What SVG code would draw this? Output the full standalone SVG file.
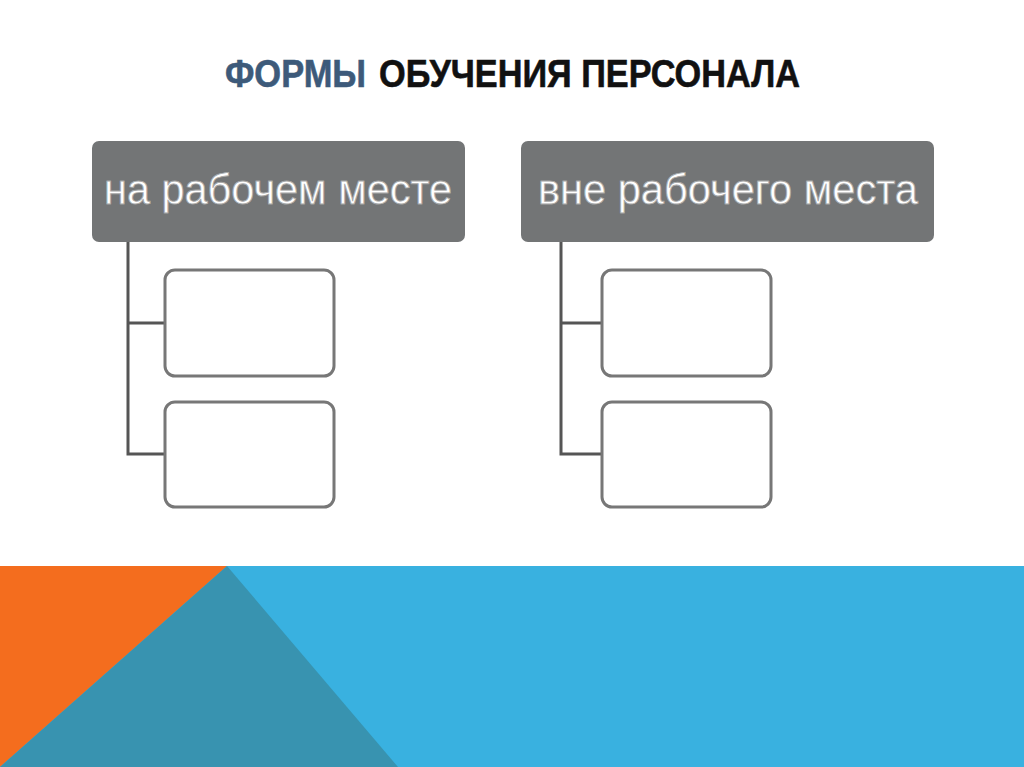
<svg xmlns="http://www.w3.org/2000/svg" width="1024" height="767" viewBox="0 0 1024 767">
<style>
.title{font-family:"Liberation Sans",Arial,sans-serif;font-weight:bold;font-size:39px;stroke-width:0.6}
.head{fill:#737576}
.htext{font-family:"Liberation Sans",Arial,sans-serif;font-size:43px;fill:#ffffff;stroke:#a8a8a8;stroke-width:0.9}
.child{fill:#ffffff;stroke:#777777;stroke-width:3}
.conn{fill:none;stroke:#555555;stroke-width:3}
</style>
<rect width="1024" height="767" fill="#ffffff"/>
<g id="background">
<rect x="0" y="566" width="1024" height="201" fill="#39b1e0"/>
<polygon points="0,566 227,566 0,767" fill="#f46d1e"/>
<polygon points="227,566 398,767 0,767" fill="#3893b0"/>
</g>
<g id="title">
<text class="title" x="225" y="87" textLength="141" lengthAdjust="spacingAndGlyphs" fill="#3d5a7a" stroke="#3d5a7a">ФОРМЫ</text>
<text class="title" x="379" y="87" textLength="421" lengthAdjust="spacingAndGlyphs" fill="#111111" stroke="#111111">ОБУЧЕНИЯ ПЕРСОНАЛА</text>
</g>
<g id="connectors">
<path class="conn" d="M128,242 V454 H165 M128,323 H165"/>
<path class="conn" d="M561,242 V454 H602 M561,323 H602"/>
</g>
<g id="node-left">
<rect class="head" x="92" y="141" width="373" height="101" rx="7"/>
<text class="htext" x="104" y="204" textLength="348" lengthAdjust="spacingAndGlyphs">на рабочем месте</text>
</g>
<g id="node-right">
<rect class="head" x="521" y="141" width="413" height="101" rx="7"/>
<text class="htext" x="538" y="204" textLength="380" lengthAdjust="spacingAndGlyphs">вне рабочего места</text>
</g>
<g id="node-left-1"><rect class="child" x="165" y="270" width="169" height="106" rx="10"/></g>
<g id="node-left-2"><rect class="child" x="165" y="402" width="169" height="105" rx="10"/></g>
<g id="node-right-1"><rect class="child" x="602" y="270" width="169" height="106" rx="10"/></g>
<g id="node-right-2"><rect class="child" x="602" y="402" width="169" height="105" rx="10"/></g>
</svg>
